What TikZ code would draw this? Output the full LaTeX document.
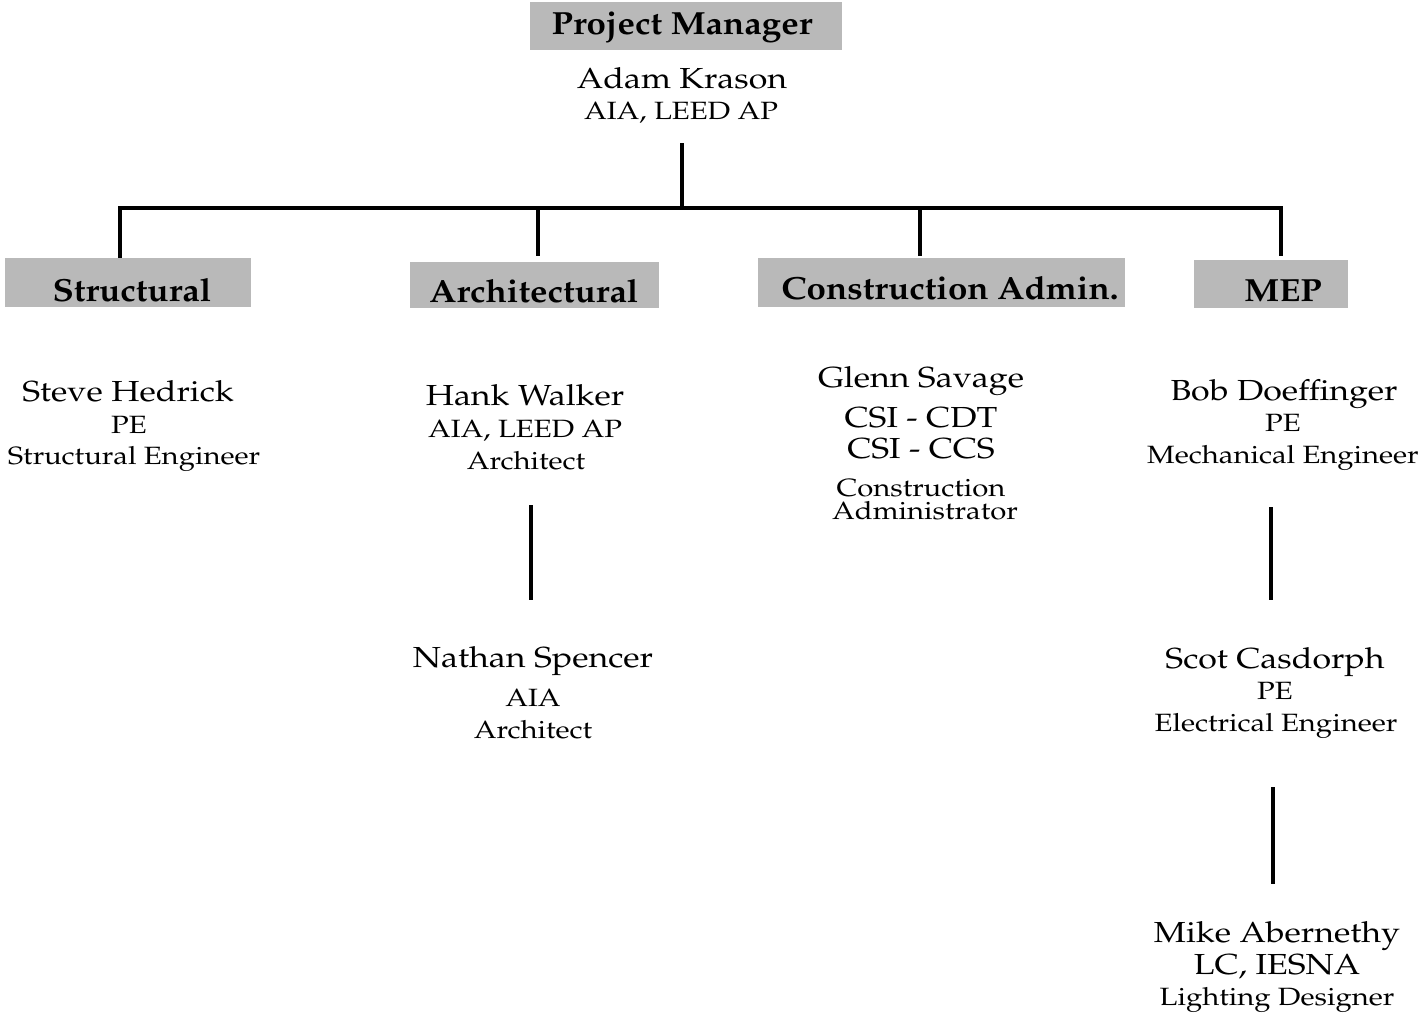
\documentclass[tikz,border=0pt]{standalone}
\usepackage[T1]{fontenc}
\renewcommand{\rmdefault}{ppl}
\usepackage{graphicx}
\newcommand{\stx}[1]{\scalebox{1.17}[1]{#1}}
\newcommand{\hdx}[1]{\scalebox{1.09}[1]{#1}}
\tikzset{
  hdrbox/.style={fill=gray!55, draw=none, inner sep=0pt},
  hdrtext/.style={font=\fontsize{32}{32}\selectfont\bfseries, anchor=base, inner sep=0pt},
  pname/.style={font=\fontsize{29}{29}\selectfont, anchor=base, inner sep=0pt},
  pcred/.style={font=\fontsize{25}{25}\selectfont, anchor=base, inner sep=0pt},
  conn/.style={line width=3.5pt, line cap=butt}
}
\begin{document}
\begin{tikzpicture}[x=1pt,y=-1pt]
\useasboundingbox (0,0) rectangle (1421,1013);
% header boxes
\node[hdrbox, minimum width=312pt, minimum height=48pt] (pmbox) at (686,26) {};
\node[hdrtext] (pmtext) at (682,34) {\hdx{Project Manager}};
\node[hdrbox, minimum width=246pt, minimum height=49pt] (stbox) at (128,282.5) {};
\node[hdrtext] (sttext) at (132,301) {\hdx{Structural}};
\node[hdrbox, minimum width=249pt, minimum height=46pt] (arbox) at (534.5,285) {};
\node[hdrtext] (artext) at (534,302) {\hdx{Architectural}};
\node[hdrbox, minimum width=367pt, minimum height=49pt] (cabox) at (941.5,282.5) {};
\node[hdrtext] (catext) at (950,299) {\hdx{Construction Admin.}};
\node[hdrbox, minimum width=154pt, minimum height=48pt] (mepbox) at (1271,284) {};
\node[hdrtext] (meptext) at (1283,301) {\hdx{MEP}};
% project manager
\node[pname] (adam) at (682,88) {\stx{Adam Krason}};
\node[pcred] (adamc) at (681,119) {\stx{AIA, LEED AP}};
% structural
\node[pname] (steve) at (128,401) {\stx{Steve Hedrick}};
\node[pcred] (stevec) at (129,433) {\stx{PE}};
\node[pcred] (stever) at (134,464) {\stx{Structural Engineer}};
% architectural
\node[pname] (hank) at (525,405) {\stx{Hank Walker}};
\node[pcred] (hankc) at (525,437) {\stx{AIA, LEED AP}};
\node[pcred] (hankr) at (526,469) {\stx{Architect}};
\node[pname] (nathan) at (533,667) {\stx{Nathan Spencer}};
\node[pcred] (nathanc) at (533,706) {\stx{AIA}};
\node[pcred] (nathanr) at (533,738) {\stx{Architect}};
% construction admin
\node[pname] (glenn) at (921,387) {\stx{Glenn Savage}};
\node[pname] (glennc1) at (921,427) {\stx{CSI - CDT}};
\node[pname] (glennc2) at (921,458) {\stx{CSI - CCS}};
\node[pcred] (glennr1) at (921,496) {\stx{Construction}};
\node[pcred] (glennr2) at (925,519) {\stx{Administrator}};
% MEP
\node[pname] (bob) at (1284,400) {\stx{Bob Doeffinger}};
\node[pcred] (bobc) at (1283,431) {\stx{PE}};
\node[pcred] (bobr) at (1283,463) {\stx{Mechanical Engineer}};
\node[pname] (scot) at (1275,668) {\stx{Scot Casdorph}};
\node[pcred] (scotc) at (1275,699) {\stx{PE}};
\node[pcred] (scotr) at (1276,731) {\stx{Electrical Engineer}};
\node[pname] (mike) at (1277,942) {\stx{Mike Abernethy}};
\node[pname] (mikec) at (1277,974) {\stx{LC, IESNA}};
\node[pcred] (miker) at (1277,1005) {\stx{Lighting Designer}};
% connectors
\coordinate (pmdown) at (682,143);
\coordinate (bus) at (682,208);
\coordinate (bS) at (120,208);
\coordinate (bA) at (538,208);
\coordinate (bC) at (920,208);
\coordinate (bM) at (1281,208);
\draw[conn] (pmdown) -- (bus);
\draw[conn] ([xshift=-1.75pt]bS) -- ([xshift=1.75pt]bM);
\draw[conn] ([yshift=1.75pt]bS) -- (bS |- stbox.north);
\draw[conn] (bA) -- (538,256);
\draw[conn] (bC) -- (920,256);
\draw[conn] ([yshift=1.75pt]bM) -- (1281,256);
\coordinate (hA) at (531,505);
\coordinate (hB) at (531,600);
\draw[conn] (hA) -- (hB);
\coordinate (mA) at (1271,507);
\coordinate (mB) at (1271,600);
\draw[conn] (mA) -- (mB);
\coordinate (sA) at (1273,787);
\coordinate (sB) at (1273,884);
\draw[conn] (sA) -- (sB);
\end{tikzpicture}
\end{document}
